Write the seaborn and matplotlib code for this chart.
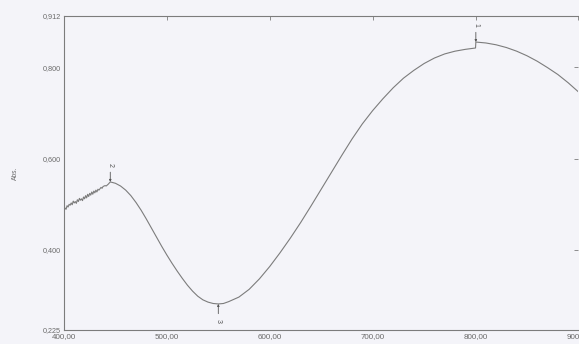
import matplotlib
matplotlib.use("Agg")
import matplotlib.pyplot as plt
import seaborn as sns
import pandas as pd

# ---- data ----
wavelength = [400, 401, 402, 403, 404, 405, 406, 407, 408, 409, 410, 411, 412,
              413, 414, 415, 416, 417, 418, 419, 420, 421, 422, 423, 424, 425,
              426, 427, 428, 429, 430, 431, 432, 433, 434, 436, 437, 438, 440,
              441, 443, 445,
              450, 455, 460, 465, 470, 475, 480, 485, 490, 495, 500, 505, 510,
              515, 520, 525, 530, 535, 540, 545, 550, 555, 560, 570, 580, 590,
              600, 610, 620, 630, 640, 650, 660, 670, 680, 690, 700, 710, 720,
              730, 740, 750, 760, 770, 780, 790, 800, 800.3, 810, 820, 830,
              840, 850, 860, 870, 880, 890, 900]
absorbance = [0.487, 0.492, 0.489, 0.497, 0.494, 0.500, 0.498, 0.503, 0.499,
              0.507, 0.503, 0.506, 0.502, 0.510, 0.506, 0.513, 0.509, 0.512,
              0.508, 0.516, 0.512, 0.519, 0.514, 0.522, 0.517, 0.524, 0.520,
              0.527, 0.522, 0.529, 0.525, 0.531, 0.527, 0.533, 0.531, 0.537,
              0.535, 0.539, 0.541, 0.540, 0.544, 0.549,
              0.546, 0.540, 0.531, 0.519, 0.504, 0.487, 0.468, 0.448, 0.428,
              0.408, 0.389, 0.371, 0.354, 0.338, 0.323, 0.310, 0.299, 0.291,
              0.286, 0.283, 0.282, 0.283, 0.287, 0.297, 0.314, 0.337, 0.364,
              0.394, 0.426, 0.460, 0.496, 0.533, 0.570, 0.607, 0.643, 0.676,
              0.705, 0.731, 0.755, 0.776, 0.793, 0.808, 0.820, 0.829, 0.835,
              0.839, 0.842, 0.855, 0.853, 0.849, 0.843, 0.835, 0.825, 0.813,
              0.799, 0.784, 0.766, 0.746]

peak_labels = ["1", "2", "3"]
peak_wl = [800.3, 445, 550]
peak_abs = [0.855, 0.549, 0.282]
peak_side = ["up", "up", "down"]

x_ticks = [400, 500, 600, 700, 800, 900]
x_tick_labels = ["400,00", "500,00", "600,00", "700,00", "800,00", "900,00"]
y_ticks = [0.225, 0.400, 0.600, 0.800, 0.912]
y_tick_labels = ["0,225", "0,400", "0,600", "0,800", "0,912"]
y_label = "Abs."

# ---- style ----
sns.set_style("white")
plt.rcParams["font.family"] = ["Liberation Sans", "DejaVu Sans"]

bg = "#f4f4f9"
grey = "#7c7c7c"
txt = "#6a6a6a"
mark = "#555555"

fig = plt.figure(figsize=(5.79, 3.44), dpi=100, facecolor=bg)
ax = fig.add_axes([0.1105, 0.0407, 0.8885, 0.9128])
ax.set_facecolor(bg)

df = pd.DataFrame({"wl": wavelength, "abs": absorbance})
sns.lineplot(data=df, x="wl", y="abs", ax=ax, color=grey, linewidth=0.8,
             sort=False, estimator=None)

for lab, wl, a, side in zip(peak_labels, peak_wl, peak_abs, peak_side):
    sgn = 1 if side == "up" else -1
    ax.annotate("", xy=(wl, a), xytext=(0, 7 * sgn), textcoords="offset points",
                arrowprops=dict(arrowstyle="-|>", color=mark, lw=0.6,
                                mutation_scale=3, shrinkA=0, shrinkB=0))
    ax.annotate(lab, xy=(wl, a), xytext=(0, 12 * sgn), textcoords="offset points",
                rotation=270, ha="center", va="center", fontsize=5,
                color=mark)

ax.set_xlim(400, 900)
ax.set_ylim(0.225, 0.912)
ax.set_xticks(x_ticks)
ax.set_xticklabels(x_tick_labels)
ax.set_yticks(y_ticks)
ax.set_yticklabels(y_tick_labels)
ax.set_xlabel("")
ax.set_ylabel(y_label, fontsize=4.8, color=txt, labelpad=17)

ax.tick_params(axis="both", direction="in", length=3, width=0.6, color=grey,
               labelcolor=txt, pad=2, top=True, right=True)
ax.tick_params(axis="x", pad=2.5, labelsize=5.8)
ax.tick_params(axis="y", labelsize=5.2)

for s in ["left", "bottom", "top"]:
    ax.spines[s].set_color(grey)
    ax.spines[s].set_linewidth(0.8)
ax.spines["right"].set_visible(False)

fig.savefig("out.png", dpi=100, facecolor=bg)
